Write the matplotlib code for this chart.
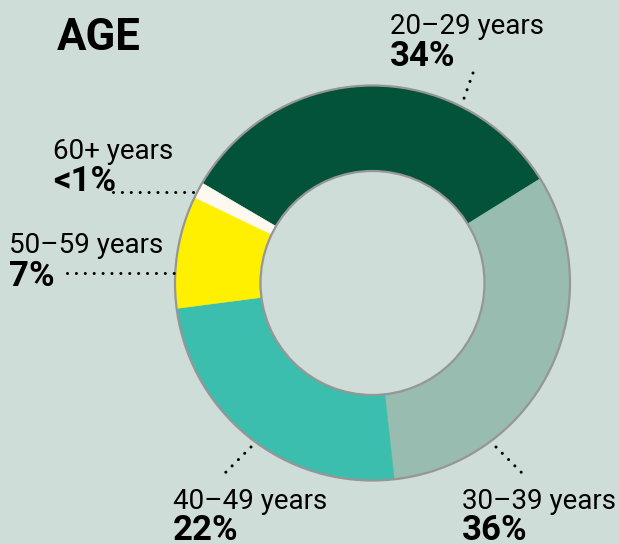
import matplotlib
matplotlib.use("Agg")
import matplotlib.pyplot as plt
from matplotlib.patches import Circle

# ---- data ----
categories = ["20–29 years", "30–39 years", "40–49 years", "50–59 years", "60+ years"]
shares = [32.7, 32.1, 24.7, 9.2, 1.3]          # slice sizes as drawn
share_labels = ["34%", "36%", "22%", "7%", "<1%"]  # printed labels
title = "AGE"

colors = ["#02533a", "#98bcb0", "#3bbeae", "#fff000", "#fdf9f0"]
bg = "#cfddd8"
outline = "#969696"

W, H = 619, 544
fig = plt.figure(figsize=(W / 100, H / 100), dpi=100)
fig.patch.set_facecolor(bg)
ax = fig.add_axes([0, 0, 1, 1])
ax.set_facecolor(bg)

def Y(y):
    return H - y

cx, cy = 372.5, Y(283)
R_out, R_in = 197.5, 112

wedges, _ = ax.pie(shares, colors=colors, startangle=149.6, counterclock=False,
                   center=(cx, cy), radius=R_out,
                   wedgeprops=dict(width=R_out - R_in, linewidth=0.4))
for w, c in zip(wedges, colors):
    w.set_edgecolor(c)
ax.add_patch(Circle((cx, cy), R_out, fill=False, edgecolor=outline, lw=1.6, zorder=5))
ax.add_patch(Circle((cx, cy), R_in, fill=False, edgecolor=outline, lw=1.6, zorder=5))

ax.set_xlim(0, W)
ax.set_ylim(0, H)
ax.set_aspect("equal")
ax.axis("off")

fam = ["Roboto", "DejaVu Sans"]
ax.text(57, Y(49.5), title, fontsize=31.5, fontweight="bold", family=fam,
        ha="left", va="baseline", color="black")

# label layout: (x, baseline of category, baseline of percent)
label_pos = {
    0: (390, 34, 66),
    1: (462, 509, 540),
    2: (173, 509, 540),
    3: (9, 253, 286),
    4: (53, 159, 191),
}
for i, (x, yb1, yb2) in label_pos.items():
    ax.text(x, Y(yb1), categories[i], fontsize=20, fontweight="normal", family=fam,
            ha="left", va="baseline", color="black")
    ax.text(x, Y(yb2), share_labels[i], fontsize=25, fontweight="bold", family=fam,
            ha="left", va="baseline", color="black")

# dotted leader lines
leaders = [
    ((473, 73), (462, 104)),
    ((496, 447), (527, 478)),
    ((251, 447), (220, 478)),
    ((67, 273), (174, 273)),
    ((113, 192), (194, 192)),
]
for (x1, y1), (x2, y2) in leaders:
    ax.plot([x1, x2], [Y(y1), Y(y2)], color="black", lw=2.2,
            linestyle=(0, (0.01, 2.9)), dash_capstyle="round", zorder=6)

fig.savefig("out.png", dpi=100, facecolor=bg)
